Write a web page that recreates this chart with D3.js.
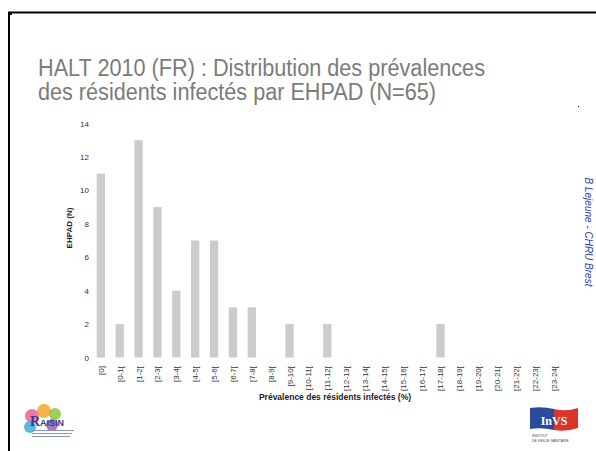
<!DOCTYPE html>
<html>
<head>
<meta charset="utf-8">
<script src="https://cdn.jsdelivr.net/npm/d3@7"></script>
<style>
  body { margin: 0; background: #fff; }
  svg { display: block; }
  .narrow { font-family: "Liberation Sans Narrow", "Arial Narrow", "Liberation Sans", sans-serif; }
</style>
</head>
<body>
<svg id="chart" width="596" height="451"></svg>
<script>
// categories (prevalence classes, %) and counts of EHPAD
var categories = ['[0]', '[0-1[', '[1-2[', '[2-3[', '[3-4[', '[4-5[', '[5-6[', '[6-7[', '[7-8[', '[8-9[',
    '[9-10[', '[10-11[', '[11-12[', '[12-13[', '[13-14[', '[14-15[', '[15-16[', '[16-17[', '[17-18[',
    '[18-19[', '[19-20[', '[20-21[', '[21-22[', '[22-23[', '[23-24['];
var counts = [11, 2, 13, 9, 4, 7, 7, 3, 3, 0, 2, 0, 2, 0, 0, 0, 0, 0, 2, 0, 0, 0, 0, 0, 0];
var yTicks = [0, 2, 4, 6, 8, 10, 12, 14];

var titleLines = ['HALT 2010 (FR) : Distribution des prévalences', 'des résidents infectés par EHPAD (N=65)'];

var svg = d3.select('#chart');

// slide frame
svg.append('line').attr('x1', 8).attr('y1', 12.5).attr('x2', 596).attr('y2', 12.5)
    .attr('stroke', '#000').attr('stroke-width', 2);
svg.append('line').attr('x1', 9).attr('y1', 12).attr('x2', 9).attr('y2', 451)
    .attr('stroke', '#000').attr('stroke-width', 2);
svg.append('rect').attr('x', 9).attr('y', 12).attr('width', 3).attr('height', 3).attr('fill', '#000');
svg.append('rect').attr('x', 578).attr('y', 106).attr('width', 1).attr('height', 1).attr('fill', '#000');

// title
svg.append('g').selectAll('text')
    .data(titleLines)
    .enter().append('text')
    .attr('class', 'narrow')
    .attr('x', 38)
    .attr('y', function(d, i) { return 76 + i * 24; })
    .attr('font-size', 23)
    .attr('fill', '#7b7b7b')
    .attr('textLength', function(d, i) { return i == 0 ? 447 : 398; })
    .attr('lengthAdjust', 'spacingAndGlyphs')
    .text(function(d) { return d; });

var x = d3.scaleBand()
    .domain(categories)
    .range([91.4, 563.1])
    .paddingInner(0.56)
    .paddingOuter(0.28);

var y = d3.scaleLinear()
    .domain([0, 14])
    .range([357.5, 123.5]);

// bars
svg.append('g')
    .selectAll('rect')
    .data(counts)
    .enter().append('rect')
    .attr('x', function(d, i) { return x(categories[i]); })
    .attr('y', function(d) { return y(d); })
    .attr('width', x.bandwidth())
    .attr('height', function(d) { return y(0) - y(d); })
    .attr('fill', '#cccccc');

// y axis (labels only)
var yAxis = svg.append('g')
    .attr('transform', 'translate(89,0)')
    .call(d3.axisLeft(y).tickValues(yTicks).tickSize(0).tickPadding(0));
yAxis.select('.domain').remove();
yAxis.selectAll('text')
    .attr('class', 'narrow')
    .attr('font-size', 8)
    .attr('fill', '#333');

// x axis (rotated labels only)
var xAxis = svg.append('g')
    .attr('transform', 'translate(0,366)')
    .call(d3.axisBottom(x).tickSize(0).tickPadding(0));
xAxis.select('.domain').remove();
xAxis.selectAll('text')
    .attr('class', 'narrow')
    .attr('font-size', 8)
    .attr('fill', '#333')
    .attr('text-anchor', 'end')
    .attr('dy', 0)
    .attr('transform', 'rotate(-90) translate(0,3)')
    .attr('x', 0)
    .attr('y', 0);

// axis titles
svg.append('text')
    .attr('class', 'narrow')
    .attr('transform', 'translate(72,228) rotate(-90)')
    .attr('text-anchor', 'middle')
    .attr('font-size', 8)
    .attr('font-weight', 'bold')
    .attr('fill', '#222')
    .text('EHPAD (N)');

svg.append('text')
    .attr('class', 'narrow')
    .attr('x', 335)
    .attr('y', 400)
    .attr('text-anchor', 'middle')
    .attr('font-size', 8.5)
    .attr('font-weight', 'bold')
    .attr('fill', '#222')
    .text('Prévalence des résidents infectés (%)');

// author credit
svg.append('text')
    .attr('transform', 'translate(585,232) rotate(90)')
    .attr('text-anchor', 'middle')
    .attr('font-family', 'Liberation Sans, Arial, sans-serif')
    .attr('font-size', 10)
    .attr('font-style', 'italic')
    .attr('fill', '#2b3fb5')
    .text('B Lejeune - CHRU Brest');

// RAISIN logo (approximation)
var raisin = svg.append('g').attr('transform', 'translate(22,404)');
var petals = [
    {cx: 10, cy: 12, r: 7, c: '#e8609a'},
    {cx: 22, cy: 7, r: 7, c: '#f4a62a'},
    {cx: 33, cy: 10, r: 6, c: '#8cc63f'},
    {cx: 8, cy: 23, r: 6, c: '#3aaee0'},
    {cx: 30, cy: 21, r: 6, c: '#a05fb0'}
];
raisin.selectAll('circle').data(petals).enter().append('circle')
    .attr('cx', function(d) { return d.cx; })
    .attr('cy', function(d) { return d.cy; })
    .attr('r', function(d) { return d.r; })
    .attr('fill', function(d) { return d.c; })
    .attr('opacity', 0.85);
raisin.append('text')
    .attr('x', 8).attr('y', 22)
    .attr('font-family', 'Liberation Serif, serif')
    .attr('font-size', 14)
    .attr('font-weight', 'bold')
    .attr('fill', '#2a3f8f')
    .text('R');
raisin.append('text')
    .attr('x', 18).attr('y', 22)
    .attr('font-family', 'Liberation Sans, sans-serif')
    .attr('font-size', 9)
    .attr('font-weight', 'bold')
    .attr('fill', '#2a3f8f')
    .text('AISIN');
[0, 1, 2].forEach(function(i) {
    raisin.append('rect')
        .attr('x', 10).attr('y', 26 + i * 3)
        .attr('width', 42 - i * 2).attr('height', 1)
        .attr('fill', '#8a96b8');
});

// InVS logo (approximation)
var invs = svg.append('g').attr('transform', 'translate(530,406)');
invs.append('path')
    .attr('d', 'M0,2 Q12,0 24,3 L24,24 Q12,21 0,23 Z')
    .attr('fill', '#2a4a9a');
invs.append('path')
    .attr('d', 'M24,3 Q36,6 48,2 L48,22 Q36,26 24,24 Z')
    .attr('fill', '#d8362d');
invs.append('text')
    .attr('x', 24).attr('y', 19)
    .attr('text-anchor', 'middle')
    .attr('font-family', 'Liberation Serif, serif')
    .attr('font-size', 12)
    .attr('font-weight', 'bold')
    .attr('fill', '#fff')
    .text('InVS');
invs.append('text')
    .attr('x', 2).attr('y', 31)
    .attr('font-family', 'Liberation Sans, sans-serif')
    .attr('font-size', 3.5)
    .attr('fill', '#445')
    .text('INSTITUT');
invs.append('text')
    .attr('x', 2).attr('y', 36)
    .attr('font-family', 'Liberation Sans, sans-serif')
    .attr('font-size', 3.5)
    .attr('fill', '#445')
    .text('DE VEILLE SANITAIRE');
</script>
</body>
</html>
